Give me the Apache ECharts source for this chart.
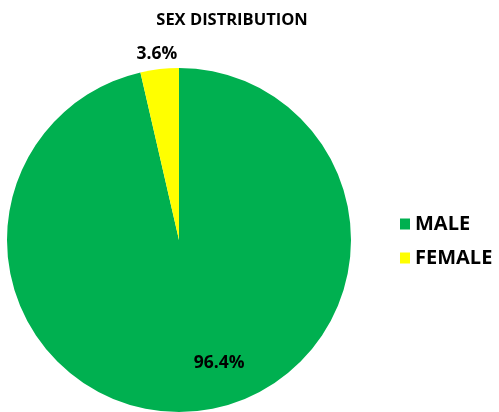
<!DOCTYPE html>
<html><head><meta charset="utf-8">
<script src="https://cdn.jsdelivr.net/npm/echarts@6/dist/echarts.min.js"></script>
<style>html,body{margin:0;padding:0;background:#fff}#c{width:499px;height:412px}</style>
</head><body><div id="c"></div>
<script>
const categories = ['MALE', 'FEMALE'];
const values = [96.4, 3.6];
const colors = ['#00B050', '#FFFF00'];
const FONT = '"Open Sans", "Liberation Sans", sans-serif';

const chart = echarts.init(document.getElementById('c'));
chart.setOption({
  animation: false,
  title: {
    text: 'SEX DISTRIBUTION', left: 227, top: 7, textAlign: 'center',
    textStyle: { fontFamily: FONT, fontWeight: 'bold', fontSize: 16.5, color: '#000' }
  },
  legend: {
    orient: 'vertical', left: 395, top: 209, itemWidth: 10, itemHeight: 11, itemGap: 14,
    icon: 'rect',
    textStyle: { fontFamily: FONT, fontWeight: 'bold', fontSize: 20, color: '#000' },
    data: categories
  },
  series: [{
    type: 'pie', center: [179, 240], radius: 172, startAngle: 90, clockwise: true,
    label: { fontFamily: FONT, fontWeight: 'bold', fontSize: 17.5, color: '#000', formatter: p => p.value.toFixed(1) + '%' },
    labelLine: { show: false },
    data: categories.map((c, i) => ({
      name: c, value: values[i], itemStyle: { color: colors[i] },
      label: i === 0 ? { position: 'inside', offset: [30, 35] } : { position: 'inside', offset: [-12, -98] }
    }))
  }]
});
</script></body></html>
